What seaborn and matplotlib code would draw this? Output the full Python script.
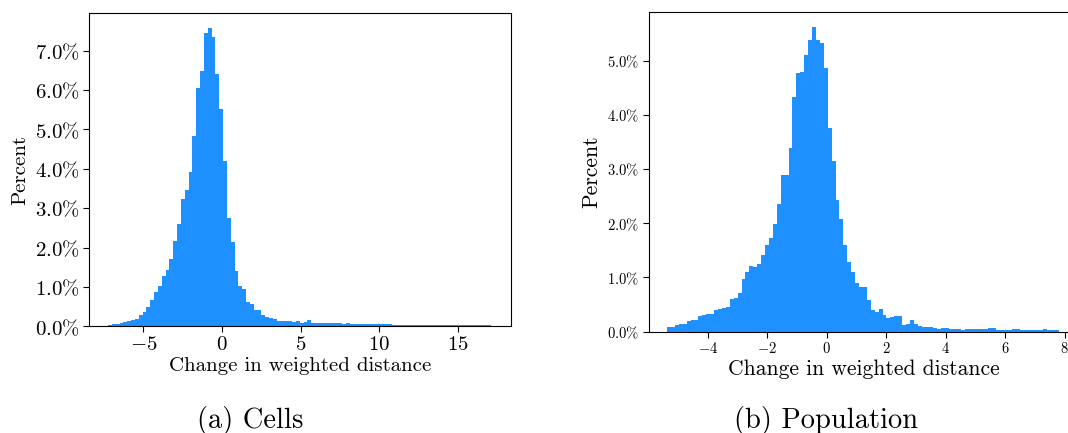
import numpy as np
import pandas as pd
import matplotlib
matplotlib.use("Agg")
import matplotlib.pyplot as plt
import seaborn as sns
from matplotlib.ticker import FuncFormatter, MultipleLocator

# ---------------- data ----------------
cells_range = (-7.24, 17.12)
cells_pct = [
    0.05, 0.07, 0.06, 0.085, 0.12, 0.14, 0.17, 0.20, 0.28, 0.37,
    0.50, 0.68, 0.87, 1.04, 1.28, 1.44, 1.72, 2.16, 2.60, 3.23,
    3.47, 3.91, 4.84, 6.05, 6.49, 7.46, 7.57, 7.35, 6.40, 5.52,
    4.20, 2.75, 2.15, 1.42, 1.02, 0.94, 0.62, 0.56, 0.43, 0.41,
    0.28, 0.25, 0.22, 0.20, 0.14, 0.14, 0.13, 0.13, 0.12, 0.13,
    0.09, 0.12, 0.16, 0.10, 0.09, 0.09, 0.085, 0.085, 0.08, 0.08,
    0.08, 0.07, 0.08, 0.07, 0.07, 0.06, 0.06, 0.075, 0.07, 0.075,
    0.075, 0.07, 0.07, 0.065, 0.05, 0.05, 0.05, 0.035, 0.035, 0.035,
    0.04, 0.05, 0.03, 0.03, 0.03, 0.03, 0.03, 0.03, 0.03, 0.03,
    0.03, 0.03, 0.03, 0.03, 0.03, 0.03, 0.03, 0.03, 0.03, 0.03,
]

pop_range = (-5.36, 7.80)
pop_pct = [
    0.08, 0.09, 0.12, 0.135, 0.15, 0.20, 0.21, 0.21, 0.29, 0.31,
    0.32, 0.33, 0.40, 0.41, 0.44, 0.46, 0.60, 0.63, 0.71, 0.98,
    1.10, 1.21, 1.20, 1.24, 1.42, 1.59, 1.73, 1.99, 2.36, 2.89,
    2.89, 3.39, 4.32, 4.77, 4.78, 5.10, 5.37, 5.62, 5.37, 5.33,
    4.86, 3.76, 3.14, 2.42, 2.07, 1.60, 1.28, 1.10, 0.89, 0.82,
    0.82, 0.59, 0.40, 0.36, 0.42, 0.30, 0.26, 0.27, 0.28, 0.28,
    0.12, 0.15, 0.21, 0.135, 0.11, 0.09, 0.08, 0.08, 0.075, 0.05,
    0.07, 0.07, 0.05, 0.05, 0.045, 0.04, 0.05, 0.055, 0.055, 0.045,
    0.045, 0.045, 0.06, 0.06, 0.04, 0.04, 0.04, 0.04, 0.045, 0.045,
    0.03, 0.035, 0.03, 0.03, 0.03, 0.03, 0.045, 0.04, 0.03, 0.03,
]

x_label = "Change in weighted distance"
y_label = "Percent"
captions = ["(a) Cells", "(b) Population"]

# ---------------- style ----------------
sns.set_style("ticks")
plt.rcParams.update({
    "font.family": "serif",
    "font.serif": ["cmr10"],
    "mathtext.fontset": "cm",
    "axes.formatter.use_mathtext": True,
    "axes.unicode_minus": True,
    "axes.edgecolor": "black",
    "xtick.color": "black",
    "ytick.color": "black",
    "text.color": "black",
    "axes.labelcolor": "black",
})

color = "#1E90FF"

fig = plt.figure(figsize=(10.68, 4.33), dpi=100)
ax1 = fig.add_axes([0.0833, 0.246, 0.3947, 0.7233])
ax2 = fig.add_axes([0.6077, 0.234, 0.4017, 0.739])

pct_fmt = FuncFormatter(lambda v, p: r"$%.1f\%%$" % v)


def draw(ax, rng, vals, tick_fs, label_fs):
    n = len(vals)
    width = (rng[1] - rng[0]) / n
    centers = rng[0] + width * (np.arange(n) + 0.5)
    df = pd.DataFrame({"x": centers, "w": vals})
    sns.histplot(data=df, x="x", weights="w", bins=n, binrange=rng, ax=ax,
                 element="step", fill=True, color=color, alpha=1,
                 linewidth=0)
    ax.yaxis.set_major_locator(MultipleLocator(1))
    ax.yaxis.set_major_formatter(pct_fmt)
    ax.set_xlabel(x_label, fontsize=label_fs, labelpad=2)
    ax.set_ylabel(y_label, fontsize=label_fs, labelpad=4)
    ax.tick_params(labelsize=tick_fs, length=4, width=0.8, pad=3)
    for s in ax.spines.values():
        s.set_linewidth(0.8)


draw(ax1, cells_range, cells_pct, 15, 15)
draw(ax2, pop_range, pop_pct, 10.5, 15.5)
ax2.set_xlim(-5.97, 8.45)

fig.text(0.2345, 0.03, captions[0], ha="center", va="center", fontsize=20.5)
fig.text(0.773, 0.03, captions[1], ha="center", va="center", fontsize=20.5)

fig.savefig("out.png", dpi=100)
